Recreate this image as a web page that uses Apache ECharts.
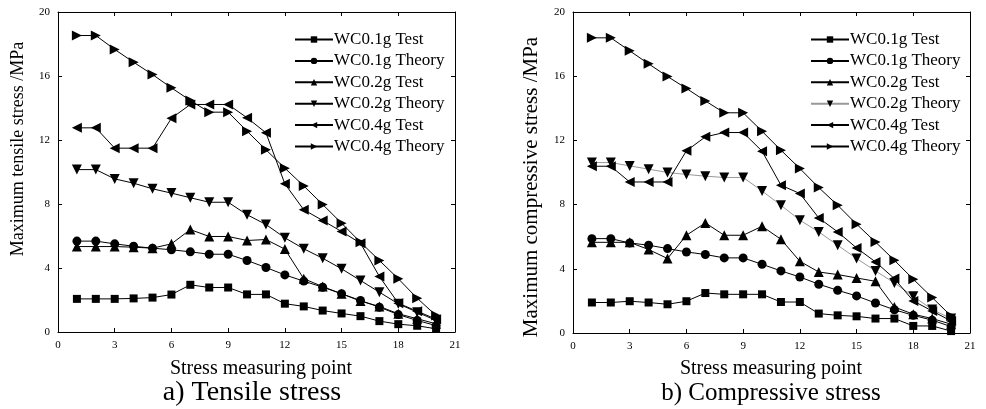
<!DOCTYPE html>
<html>
<head>
<meta charset="utf-8">
<script src="https://cdn.jsdelivr.net/npm/echarts@6/dist/echarts.min.js"></script>
<style>html,body{margin:0;padding:0;background:#fff;}#c{width:986px;height:409px;}</style>
</head>
<body>
<div id="c"></div>
<script>
// ---- data ----
var points = [1,2,3,4,5,6,7,8,9,10,11,12,13,14,15,16,17,18,19,20];
var seriesNames = ['WC0.1g Test','WC0.1g Theory','WC0.2g Test','WC0.2g Theory','WC0.4g Test','WC0.4g Theory'];
var xTicks = [0,3,6,9,12,15,18,21];
var yTicks = [0,4,8,12,16,20];

// (a) tensile stress
var tenT01 = [2.07,2.07,2.07,2.1,2.15,2.34,2.95,2.78,2.78,2.35,2.35,1.77,1.6,1.34,1.16,0.99,0.68,0.49,0.39,0.2];
var tenTh01 = [5.68,5.68,5.51,5.36,5.24,5.14,5.01,4.86,4.86,4.47,4.03,3.57,3.18,2.8,2.39,1.97,1.55,1.09,0.72,0.4];
var tenT02 = [5.34,5.34,5.34,5.3,5.24,5.51,6.4,5.97,5.97,5.72,5.78,5.18,3.33,2.84,2.39,1.93,1.6,1.14,0.83,0.51];
var tenTh02 = [10.15,10.15,9.57,9.3,8.95,8.68,8.39,8.11,8.11,7.33,6.72,5.89,5.2,4.61,3.95,3.22,2.49,1.76,1.24,0.72];
var tenT04 = [12.76,12.76,11.49,11.49,11.49,13.36,14.22,14.22,14.22,13.39,12.45,9.26,7.64,6.97,6.28,5.55,3.47,1.8,1.3,0.8];
var tenTh04 = [18.53,18.53,17.66,16.86,16.09,15.26,14.47,13.74,13.74,12.55,11.39,10.24,9.13,7.97,6.8,5.61,4.47,3.33,2.11,1.03];

// (b) compressive stress
var comT01 = [1.9,1.9,1.98,1.9,1.79,1.98,2.49,2.41,2.41,2.41,1.93,1.93,1.21,1.1,1.04,0.9,0.9,0.44,0.44,0.12];
var comTh01 = [5.88,5.88,5.61,5.47,5.26,5.05,4.89,4.68,4.68,4.28,3.87,3.49,3.04,2.66,2.31,1.87,1.45,1.1,0.8,0.4];
var comT02 = [5.65,5.65,5.65,5.2,4.64,6.09,6.86,6.09,6.09,6.65,5.84,4.47,3.8,3.64,3.43,3.22,1.62,1.17,0.9,0.55];
var comTh02 = [10.62,10.62,10.41,10.21,10.0,9.88,9.77,9.69,9.69,8.85,7.96,7.03,6.3,5.47,4.64,3.87,3.12,2.29,1.46,0.9];
var comT04 = [10.39,10.39,9.41,9.41,9.41,11.35,12.22,12.49,12.49,11.33,9.21,8.69,7.17,6.3,5.3,4.43,3.39,2.0,1.37,0.75];
var comTh04 = [18.39,18.39,17.58,16.77,15.98,15.24,14.46,13.72,13.72,12.57,11.39,10.25,9.06,7.96,6.78,5.67,4.53,3.35,2.21,1.06];

// ---- chart ----
var FONT = '"Liberation Serif","Times New Roman",serif';
var symbols = [
  'rect',
  'circle',
  'triangle',
  'path://M0,0L10,0L5,10Z',
  'path://M10,0L10,10L0,5Z',
  'path://M0,0L10,5L0,10Z'
];
var symSizes = [8, 9, 10, 10, 10, 10];

function pairs(arr){ return points.map(function(p,i){ return [p, arr[i]]; }); }

function makeSeries(gridIdx, arrays, lineColors, suffix){
  return arrays.map(function(arr, k){
    return {
      name: seriesNames[k] + suffix,
      type: 'line',
      xAxisIndex: gridIdx*2,
      yAxisIndex: gridIdx*2,
      data: pairs(arr),
      symbol: symbols[k],
      symbolSize: symSizes[k],
      showAllSymbol: true,
      lineStyle: {color: lineColors[k], width: 1},
      itemStyle: {color: '#000'},
      emphasis: {disabled: true},
      animation: false,
      z: 2
    };
  });
}

var axisLine = {show: true, onZero: false, lineStyle: {color: '#000', width: 1}};
var axisTick = {show: true, inside: true, length: 4, lineStyle: {color: '#000', width: 1}};
function xAxes(gi){
  return [
    {gridIndex: gi, type: 'value', min: xTicks[0], max: xTicks[xTicks.length-1], interval: 3, position: 'bottom',
     axisLine: axisLine, axisTick: axisTick, splitLine: {show: false},
     axisLabel: {color: '#000', fontFamily: FONT, fontSize: 11, margin: 8}},
    {gridIndex: gi, type: 'value', min: xTicks[0], max: xTicks[xTicks.length-1], interval: 3, position: 'top',
     axisLine: axisLine, axisTick: axisTick, splitLine: {show: false}, axisLabel: {show: false}}
  ];
}
function yAxes(gi){
  return [
    {gridIndex: gi, type: 'value', min: yTicks[0], max: yTicks[yTicks.length-1], interval: 4, position: 'left',
     axisLine: axisLine, axisTick: axisTick, splitLine: {show: false},
     axisLabel: {color: '#000', fontFamily: FONT, fontSize: 11, margin: 8}},
    {gridIndex: gi, type: 'value', min: yTicks[0], max: yTicks[yTicks.length-1], interval: 4, position: 'right',
     axisLine: axisLine, axisTick: axisTick, splitLine: {show: false}, axisLabel: {show: false}}
  ];
}

function legend(left, suffix){
  return {
    data: seriesNames.map(function(n){ return n + suffix; }),
    orient: 'vertical',
    left: left, top: 26,
    itemWidth: 38, itemHeight: 8, itemGap: 4.4,
    textStyle: {color: '#000', fontFamily: FONT, fontSize: 17, padding: [0,0,0,-4]},
    selectedMode: false,
    backgroundColor: 'transparent'
  };
}

var chart = echarts.init(document.getElementById('c'), null, {renderer: 'canvas'});
var blacks = ['#000','#000','#000','#000','#000','#000'];
var rightColors = ['#000','#000','#000','#999','#000','#000'];
var s1 = makeSeries(0, [tenT01, tenTh01, tenT02, tenTh02, tenT04, tenTh04], blacks, '');
var s2 = makeSeries(1, [comT01, comTh01, comT02, comTh02, comT04, comTh04], rightColors, ' ');

chart.setOption({
  backgroundColor: '#fff',
  textStyle: {fontFamily: FONT},
  grid: [
    {left: 58, top: 12, width: 397, height: 320},
    {left: 573, top: 12, width: 397, height: 321}
  ],
  xAxis: xAxes(0).concat(xAxes(1)),
  yAxis: yAxes(0).concat(yAxes(1)),
  legend: [legend(289, ''), legend(805, ' ')],
  series: s1.concat(s2),
  graphic: [
    {type: 'text', x: 18, y: 149, rotation: Math.PI/2,
     style: {text: 'Maximum tensile stress /MPa', font: '18px ' + FONT, fill: '#000', textAlign: 'center', textVerticalAlign: 'middle'}},
    {type: 'text', x: 531, y: 187, rotation: Math.PI/2,
     style: {text: 'Maximum compressive stress /MPa', font: '21px ' + FONT, fill: '#000', textAlign: 'center', textVerticalAlign: 'middle'}},
    {type: 'text', x: 261, y: 369,
     style: {text: 'Stress measuring point', font: '20px ' + FONT, fill: '#000', textAlign: 'center', textVerticalAlign: 'middle'}},
    {type: 'text', x: 771, y: 369,
     style: {text: 'Stress measuring point', font: '20px ' + FONT, fill: '#000', textAlign: 'center', textVerticalAlign: 'middle'}},
    {type: 'text', x: 252, y: 393,
     style: {text: 'a) Tensile stress', font: '28px ' + FONT, fill: '#000', textAlign: 'center', textVerticalAlign: 'middle'}},
    {type: 'text', x: 771, y: 393,
     style: {text: 'b) Compressive stress', font: '25px ' + FONT, fill: '#000', textAlign: 'center', textVerticalAlign: 'middle'}}
  ]
});
</script>
</body>
</html>
